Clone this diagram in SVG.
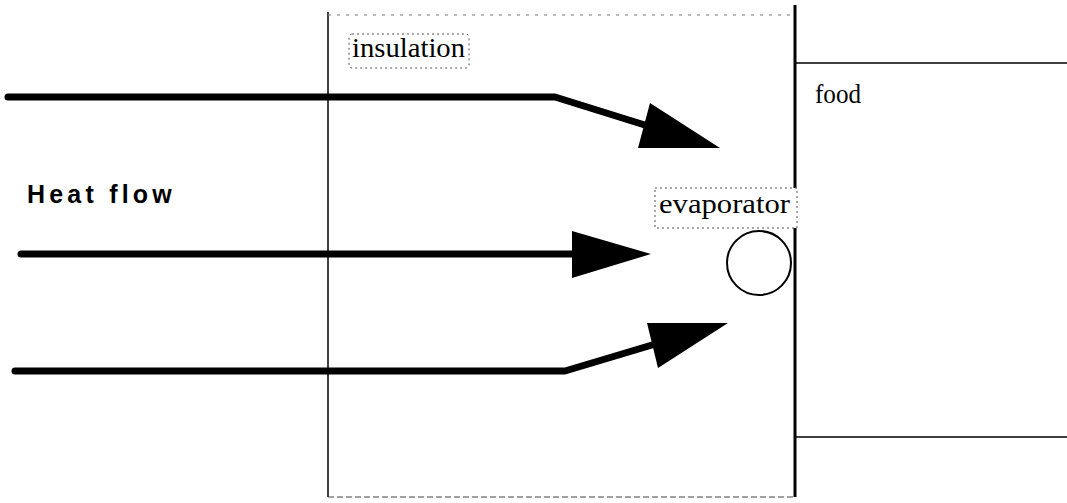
<svg xmlns="http://www.w3.org/2000/svg" width="1067" height="503" viewBox="0 0 1067 503">
<style>
.arrow{fill:none;stroke:#000;stroke-width:7;stroke-linecap:round;stroke-linejoin:round}
.head{fill:#000;stroke:none}
.lbl{font-family:"Liberation Serif","Times New Roman",serif;font-size:28px;fill:#000}
.dot{fill:#fff;stroke:#555;stroke-width:1;stroke-dasharray:2 3}
</style>
<rect width="1067" height="503" fill="#fff"/>
<g id="insulation">
  <line x1="328" y1="12" x2="328" y2="497" stroke="#000" stroke-width="1.5"/>
  <line x1="328" y1="15" x2="795" y2="15" stroke="#777" stroke-width="1" stroke-dasharray="3 6"/>
  <line x1="328" y1="497" x2="795" y2="497" stroke="#444" stroke-width="1.2" stroke-dasharray="6 3"/>
  <rect class="dot" x="349" y="34" width="120" height="34" rx="3"/>
  <text class="lbl" x="352" y="57" textLength="113" lengthAdjust="spacingAndGlyphs">insulation</text>
</g>
<g id="food">
  <line x1="795" y1="5" x2="795" y2="497" stroke="#000" stroke-width="3"/>
  <line x1="795" y1="63" x2="1067" y2="63" stroke="#000" stroke-width="1.5"/>
  <line x1="795" y1="437" x2="1067" y2="437" stroke="#000" stroke-width="1.5"/>
  <text class="lbl" x="815" y="103" font-size="25" textLength="46" lengthAdjust="spacingAndGlyphs">food</text>
</g>
<g id="evaporator">
  <circle cx="759" cy="263" r="32" fill="#fff" stroke="#000" stroke-width="2"/>
  <rect class="dot" x="655" y="188" width="142" height="40" fill="#fff"/>
  <text class="lbl" x="659" y="213" textLength="131" lengthAdjust="spacingAndGlyphs">evaporator</text>
</g>
<g id="heatflow-label">
  <text x="27" y="203" font-family="Liberation Sans, Arial, sans-serif" font-weight="bold" font-size="25" letter-spacing="4.2">Heat flow</text>
</g>
<g id="connectors">
  <polyline class="arrow" points="8,97 555,97 648,126"/>
  <polygon class="head" points="650,103 638,148 720,148"/>
  <polyline class="arrow" points="21,254 576,254"/>
  <polygon class="head" points="572,231 572,278 651,254"/>
  <polyline class="arrow" points="15,371 565,371 652,345"/>
  <polygon class="head" points="647,323 658,368 728,323"/>
</g>
</svg>
